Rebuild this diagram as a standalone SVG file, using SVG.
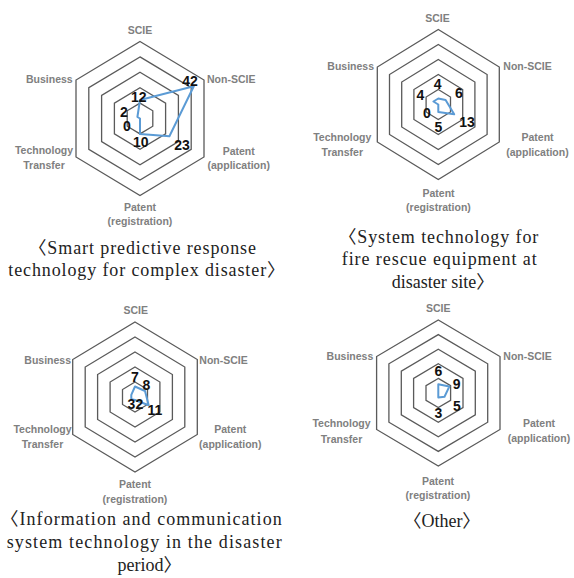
<svg xmlns="http://www.w3.org/2000/svg" width="574" height="578" viewBox="0 0 574 578">
  <style>
    .grid { fill: none; stroke: #5a5a5a; stroke-width: 1.3; stroke-linejoin: miter; }
    .series { fill: none; stroke: #5b9bd5; stroke-width: 2; stroke-linejoin: round; }
    .axis { font-family: "Liberation Sans", Arial, sans-serif; font-weight: bold; font-size: 10.5px; fill: #808080; }
    .val { font-family: "Liberation Sans", Arial, sans-serif; font-weight: bold; font-size: 14px; fill: #111; text-anchor: middle; }
    .cap { font-family: "Liberation Serif", "Noto Sans CJK KR", serif; font-size: 18px; fill: #222; }
    .m { text-anchor: middle; }
    .e { text-anchor: end; }
  </style>
  <rect width="574" height="578" fill="#ffffff"/>

  <!-- Radar chart 1: smart predictive response technology -->
  <g id="chart-smart-predictive">
    <g id="grid-1">
      <polygon class="grid" points="140,41.5 204,80 204,157 140,195.5 76,157 76,80"/>
      <polygon class="grid" points="140,56.9 191.2,87.7 191.2,149.3 140,180.1 88.8,149.3 88.8,87.7"/>
      <polygon class="grid" points="140,72.3 178.4,95.4 178.4,141.6 140,164.7 101.6,141.6 101.6,95.4"/>
      <polygon class="grid" points="140,87.7 165.6,103.1 165.6,133.9 140,149.3 114.4,133.9 114.4,103.1"/>
      <polygon class="grid" points="140,103.1 152.8,110.8 152.8,126.2 140,133.9 127.2,126.2 127.2,110.8"/>
    </g>
    <polygon class="series" points="140,100 193.8,86.2 169.4,136.2 140,133.9 140,118.5 137.4,117"/>
    <text class="axis m" x="140" y="33.5">SCIE</text>
    <text class="axis" x="207" y="83">Non-SCIE</text>
    <text class="axis e" x="72.7" y="83">Business</text>
    <text class="axis m" x="238.7" y="154.5">Patent</text>
    <text class="axis m" x="238.7" y="168.5">(application)</text>
    <text class="axis m" x="44" y="154">Technology</text>
    <text class="axis m" x="44" y="168.5">Transfer</text>
    <text class="axis m" x="140" y="210.5">Patent</text>
    <text class="axis m" x="140" y="224.5">(registration)</text>
    <text class="val" x="138.8" y="101.5">12</text>
    <text class="val" x="190" y="85.5">42</text>
    <text class="val" x="182" y="149.5">23</text>
    <text class="val" x="140.8" y="146.5">10</text>
    <text class="val" x="127" y="131">0</text>
    <text class="val" x="124" y="116.5">2</text>
    <text class="cap" x="28.4" y="254" textLength="227.6" lengthAdjust="spacing">〈Smart predictive response</text>
    <text class="cap" x="8.3" y="276" textLength="276.7" lengthAdjust="spacing">technology for complex disaster〉</text>
  </g>

  <!-- Radar chart 2: fire rescue equipment system technology -->
  <g id="chart-fire-rescue">
    <g id="grid-2">
      <polygon class="grid" points="438.3,29.5 499.3,67 499.3,142 438.3,179.5 377.3,142 377.3,67"/>
      <polygon class="grid" points="438.3,44.5 487.1,74.5 487.1,134.5 438.3,164.5 389.5,134.5 389.5,74.5"/>
      <polygon class="grid" points="438.3,59.5 474.9,82 474.9,127 438.3,149.5 401.7,127 401.7,82"/>
      <polygon class="grid" points="438.3,74.5 462.7,89.5 462.7,119.5 438.3,134.5 413.9,119.5 413.9,89.5"/>
      <polygon class="grid" points="438.3,89.5 450.5,97 450.5,112 438.3,119.5 426.1,112 426.1,97"/>
    </g>
    <polygon class="series" points="438.3,98.5 445.6,100 454.2,114.3 438.3,112 438.3,104.5 433.4,101.5"/>
    <text class="axis m" x="437.5" y="21.5">SCIE</text>
    <text class="axis" x="503.3" y="70">Non-SCIE</text>
    <text class="axis e" x="374" y="70">Business</text>
    <text class="axis m" x="537.5" y="141">Patent</text>
    <text class="axis m" x="537.5" y="155.5">(application)</text>
    <text class="axis m" x="342.3" y="140.5">Technology</text>
    <text class="axis m" x="342.3" y="155.5">Transfer</text>
    <text class="axis m" x="438.5" y="197">Patent</text>
    <text class="axis m" x="438.5" y="211">(registration)</text>
    <text class="val" x="437.7" y="89.3">4</text>
    <text class="val" x="459" y="98">6</text>
    <text class="val" x="467" y="127">13</text>
    <text class="val" x="438.5" y="132">5</text>
    <text class="val" x="427" y="118">0</text>
    <text class="val" x="420.5" y="100">4</text>
    <text class="cap" x="338.4" y="242.5" textLength="199.9" lengthAdjust="spacing">〈System technology for</text>
    <text class="cap" x="341.7" y="265" textLength="195" lengthAdjust="spacing">fire rescue equipment at</text>
    <text class="cap" x="391.7" y="287.5">disaster site〉</text>
  </g>

  <!-- Radar chart 3: information and communication system technology -->
  <g id="chart-ict">
    <g id="grid-3">
      <polygon class="grid" points="135,322 197.3,359.5 197.3,434.5 135,472 72.7,434.5 72.7,359.5"/>
      <polygon class="grid" points="135,337 184.8,367 184.8,427 135,457 85.2,427 85.2,367"/>
      <polygon class="grid" points="135,352 172.4,374.5 172.4,419.5 135,442 97.6,419.5 97.6,374.5"/>
      <polygon class="grid" points="135,367 159.9,382 159.9,412 135,427 110.1,412 110.1,382"/>
      <polygon class="grid" points="135,382 147.5,389.5 147.5,404.5 135,412 122.5,404.5 122.5,389.5"/>
    </g>
    <polygon class="series" points="135,386.5 145,391 148.7,405.3 135,400 131.3,399.3 131.3,394.8"/>
    <text class="axis m" x="135.8" y="313.5">SCIE</text>
    <text class="axis" x="199.3" y="363.5">Non-SCIE</text>
    <text class="axis e" x="71" y="363.5">Business</text>
    <text class="axis m" x="230.3" y="432.5">Patent</text>
    <text class="axis m" x="230.3" y="448">(application)</text>
    <text class="axis m" x="42.5" y="432.5">Technology</text>
    <text class="axis m" x="42.5" y="448">Transfer</text>
    <text class="axis m" x="135" y="487.5">Patent</text>
    <text class="axis m" x="135" y="503">(registration)</text>
    <text class="val" x="135" y="381.7">7</text>
    <text class="val" x="146.3" y="390">8</text>
    <text class="val" x="155" y="415">11</text>
    <text class="val" x="131.4" y="409.3">3</text>
    <text class="val" x="139.3" y="409.3">2</text>
    <text class="cap" x="0.5" y="525" textLength="281.2" lengthAdjust="spacing">〈Information and communication</text>
    <text class="cap" x="6.7" y="548" textLength="275" lengthAdjust="spacing">system technology in the disaster</text>
    <text class="cap" x="117.5" y="570.5">period〉</text>
  </g>

  <!-- Radar chart 4: other -->
  <g id="chart-other">
    <g id="grid-4">
      <polygon class="grid" points="438.3,320 500,356.5 500,429.5 438.3,466 376.6,429.5 376.6,356.5"/>
      <polygon class="grid" points="438.3,334.6 487.7,363.8 487.7,422.2 438.3,451.4 388.9,422.2 388.9,363.8"/>
      <polygon class="grid" points="438.3,349.2 475.3,371.1 475.3,414.9 438.3,436.8 401.3,414.9 401.3,371.1"/>
      <polygon class="grid" points="438.3,363.8 463,378.4 463,407.6 438.3,422.2 413.6,407.6 413.6,378.4"/>
      <polygon class="grid" points="438.3,378.4 450.6,385.7 450.6,400.3 438.3,407.6 426,400.3 426,385.7"/>
    </g>
    <polygon class="series" points="438.3,384.2 449.4,386.4 444.5,396.7 438.3,397.4 438.3,393"/>
    <text class="axis m" x="438.3" y="311.5">SCIE</text>
    <text class="axis" x="503.3" y="360">Non-SCIE</text>
    <text class="axis e" x="373.3" y="360">Business</text>
    <text class="axis m" x="539" y="427">Patent</text>
    <text class="axis m" x="539" y="442">(application)</text>
    <text class="axis m" x="341.5" y="427">Technology</text>
    <text class="axis m" x="341.5" y="442.5">Transfer</text>
    <text class="axis m" x="438" y="484.5">Patent</text>
    <text class="axis m" x="438" y="499">(registration)</text>
    <text class="val" x="438.3" y="375.5">6</text>
    <text class="val" x="456.7" y="389">9</text>
    <text class="val" x="457" y="411">5</text>
    <text class="val" x="438.3" y="418">3</text>
    <text class="cap" x="403.4" y="527">〈Other〉</text>
  </g>
</svg>
